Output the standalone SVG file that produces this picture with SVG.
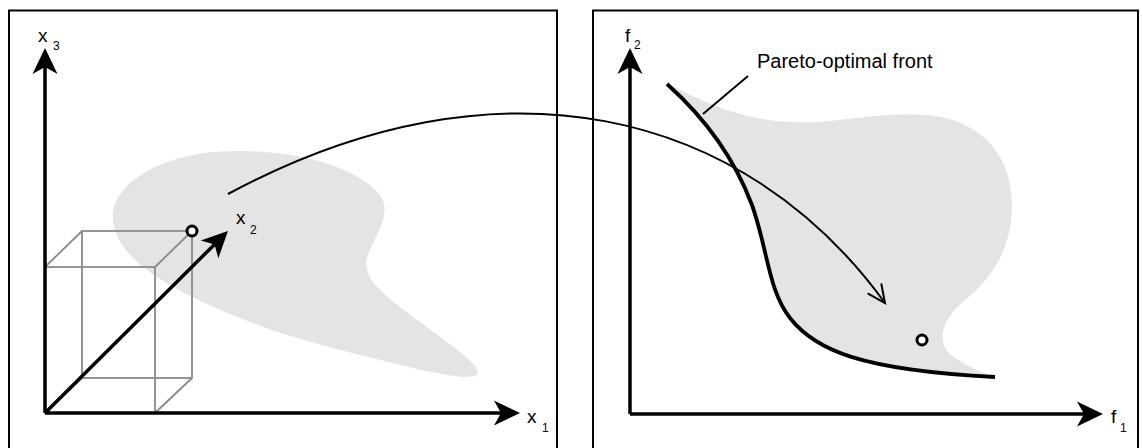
<svg xmlns="http://www.w3.org/2000/svg" width="1142" height="448" viewBox="0 0 1142 448">
  <style>
    .panel { fill: #ffffff; stroke: #000000; stroke-width: 2; }
    .region { fill: #e4e4e4; stroke: none; }
    .axis { fill: none; stroke: #000000; stroke-width: 3.5; marker-end: url(#axisHead); }
    .box { fill: none; stroke: #8a8a8a; stroke-width: 1.8; }
    .map { fill: none; stroke: #000000; stroke-width: 2; marker-end: url(#openHead); }
    .front { fill: none; stroke: #000000; stroke-width: 3.8; }
    .leader { fill: none; stroke: #000000; stroke-width: 2; }
    .point { fill: #ffffff; stroke: #000000; stroke-width: 3; }
    .lbl { font-family: "Liberation Sans", Arial, sans-serif; font-size: 19px; fill: #000000; }
    .sub { font-family: "Liberation Sans", Arial, sans-serif; font-size: 12px; fill: #000000; }
    .note { font-family: "Liberation Sans", Arial, sans-serif; font-size: 20px; fill: #000000; }
  </style>
  <defs>
    <!-- filled notched head for the coordinate axes; the line ends at the notch -->
    <marker id="axisHead" markerUnits="userSpaceOnUse" markerWidth="30" markerHeight="30" refX="7" refY="0" orient="auto" viewBox="0 -15 30 30" overflow="visible">
      <path d="M26,0 L0,-12.5 L7,0 L0,12.5 Z" fill="#000000"/>
    </marker>
    <!-- open V head for the mapping arrow -->
    <marker id="openHead" markerUnits="userSpaceOnUse" markerWidth="30" markerHeight="30" refX="0" refY="0" orient="auto" viewBox="-25 -15 30 30" overflow="visible">
      <path d="M-18,-8.4 L0,0 L-18,8.4" fill="none" stroke="#000000" stroke-width="2"/>
    </marker>
  </defs>

  <!-- decision space panel -->
  <g id="decision-space">
    <rect class="panel" x="9" y="10.5" width="548" height="460"/>
    <path class="region" d="M113,220 C110,185 160,152 233,151 C300,150 358,168 380,195 C394,214 372,240 367,258 C362,280 385,295 420,322 C455,348 485,368 476,375 C468,381 430,372 400,365 C340,350 290,338 250,322 C180,295 116,262 113,220 Z"/>
  </g>

  <!-- objective space panel -->
  <g id="objective-space">
    <rect class="panel" x="593" y="10.5" width="545" height="460"/>
    <path class="region" d="M667,84 L672,86 C700,100 740,120 790,122 C840,124 870,112 925,115 C975,118 1012,150 1012,205 C1012,250 990,280 965,300 C940,320 935,345 955,358 C970,368 985,374 995,377 C860,370 815,350 790,318 C768,290 768,250 752,205 C735,160 705,118 667,84 Z"/>
  </g>

  <!-- box spanned by the decision vector -->
  <g id="box">
    <rect class="box" x="45" y="267" width="110" height="146"/>
    <rect class="box" x="82" y="231" width="110" height="147"/>
    <line class="box" x1="45" y1="267" x2="82" y2="231"/>
    <line class="box" x1="155" y1="267" x2="192" y2="231"/>
    <line class="box" x1="155" y1="413" x2="192" y2="378"/>
    <line class="box" x1="45" y1="413" x2="82" y2="378"/>
  </g>

  <!-- connectors -->
  <g id="connectors">
    <path class="map" d="M228,194 C500,48 745,110 885,303"/>
    <line class="leader" x1="748" y1="76" x2="703" y2="114"/>
  </g>

  <g id="pareto-front">
    <path class="front" d="M667,84 C705,118 735,160 752,205 C768,250 768,290 790,318 C815,350 860,370 995,377"/>
  </g>

  <!-- axes -->
  <g id="axes-x">
    <line class="axis" x1="45" y1="413" x2="45" y2="67"/>
    <line class="axis" x1="45" y1="413" x2="501" y2="413"/>
    <line class="axis" x1="45" y1="413" x2="214.5" y2="244.4"/>
  </g>
  <g id="axes-f">
    <line class="axis" x1="630" y1="414" x2="630" y2="67"/>
    <line class="axis" x1="630" y1="414" x2="1084" y2="414"/>
  </g>

  <!-- solution and its image -->
  <g id="solution">
    <circle class="point" cx="192" cy="231" r="5"/>
  </g>
  <g id="image">
    <circle class="point" cx="922" cy="340" r="5"/>
  </g>

  <!-- labels -->
  <g id="labels">
    <text class="lbl" x="38" y="42">x</text><text class="sub" x="53" y="50">3</text>
    <text class="lbl" x="236" y="224">x</text><text class="sub" x="250" y="234">2</text>
    <text class="lbl" x="527" y="423">x</text><text class="sub" x="542" y="432">1</text>
    <text class="lbl" x="625" y="42">f</text><text class="sub" x="634" y="49">2</text>
    <text class="lbl" x="1111" y="423">f</text><text class="sub" x="1120" y="432">1</text>
    <text class="note" x="757" y="68">Pareto-optimal front</text>
  </g>
</svg>
